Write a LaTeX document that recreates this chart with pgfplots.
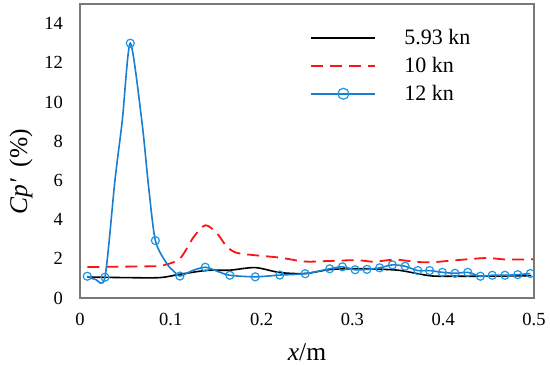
\documentclass[border=0pt]{standalone}
\usepackage{fontspec}
\setmainfont{Liberation Serif}
\usepackage{pgfplots}
\pgfplotsset{compat=1.18}
\usetikzlibrary{calc}
\definecolor{bline}{RGB}{25,125,210}
\definecolor{bmark}{RGB}{30,150,225}
\definecolor{rline}{RGB}{250,20,20}
\definecolor{axgray}{RGB}{120,120,120}
\begin{document}
\begin{tikzpicture}
\begin{axis}[
  scale only axis, width=454pt, height=294pt,
  xmin=0, xmax=0.5, ymin=0, ymax=15,
  xtick={0,0.1,0.2,0.3,0.4,0.5}, ytick={0,2,4,6,8,10,12,14},
  major tick length=0pt,
  axis line style={draw=axgray, line width=1.3pt},
  tick label style={font=\fontsize{18.5}{20}\selectfont, inner sep=0pt},
  /pgf/number format/assume math mode=true,
  xticklabel style={yshift=-15pt},
  yticklabel style={xshift=-17pt},
  xlabel={\textit{x}/m},
  ylabel={\textit{Cp′}\hspace{0.45em}(\%)},
  label style={font=\fontsize{25.5}{28}\selectfont},
  xlabel style={at={(axis description cs:0.5,-0.184)}, anchor=center},
  ylabel style={at={(axis description cs:-0.13,0.43)}, anchor=center},
  legend cell align=left,
  legend style={at={(axis description cs:0.5006,0.925)}, anchor=north west,
    draw=none, fill=none, font=\fontsize{22}{24}\selectfont,
    row sep=9pt, /tikz/column sep=27pt,
    nodes={inner sep=1pt, text height=15pt, text depth=2pt}},
  legend image code/.code={
    \draw[mark=none] (0pt,0pt) -- (64pt,0pt);
    \draw[only marks, mark size=5.5pt] plot coordinates {(32pt,0pt)};},
]
\addplot[black, line width=1.6pt, smooth, tension=0.5] coordinates {
(0.008,1.07) (0.05,1.04) (0.088,1.04) (0.11,1.21) (0.14,1.41) (0.165,1.42)
(0.193,1.55) (0.22,1.30) (0.248,1.25) (0.275,1.45) (0.305,1.50) (0.33,1.47)
(0.352,1.41) (0.371,1.25) (0.389,1.12) (0.423,1.11) (0.46,1.12) (0.497,1.14)
};
\addlegendentry{5.93 kn}
\addplot[rline, line width=1.8pt, dash pattern=on 12pt off 7pt, smooth, tension=0.5] coordinates {
(0.008,1.58) (0.05,1.60) (0.08,1.62) (0.092,1.67) (0.11,2.01) (0.125,3.1)
(0.138,3.71) (0.151,3.29) (0.162,2.6) (0.173,2.3) (0.193,2.18) (0.22,2.06)
(0.248,1.86) (0.275,1.89) (0.305,1.93) (0.323,1.85) (0.341,1.94) (0.349,1.96)
(0.371,1.84) (0.389,1.83) (0.415,1.93) (0.448,2.04) (0.470,1.96) (0.499,1.98)
};
\addlegendentry{10 kn}
\addplot[bline, line width=1.6pt, smooth, tension=0.45,
  mark=o, mark size=4pt, mark options={draw=bmark, line width=1.2pt, solid},
  mark indices={1,3,6,9,12,14,16,17,18,19,20,21,22,23,24,25,26,27,28,29,30,31,32,33,34,35,36}] coordinates {
(0.008,1.11) (0.017,0.95) (0.0275,1.06) (0.0385,6.0) (0.0466,9.07) (0.0554,13.0)
(0.068,9.07) (0.0755,5.7) (0.083,2.93) (0.0955,1.76) (0.103,1.38) (0.110,1.12)
(0.124,1.40) (0.138,1.57) (0.152,1.35) (0.165,1.16) (0.193,1.08) (0.220,1.17)
(0.248,1.24) (0.275,1.49) (0.289,1.59) (0.303,1.44) (0.316,1.46) (0.330,1.54)
(0.344,1.69) (0.358,1.62) (0.372,1.40) (0.385,1.40) (0.399,1.31) (0.413,1.26)
(0.427,1.31) (0.441,1.11) (0.454,1.16) (0.468,1.16) (0.482,1.19) (0.496,1.25)
};
\addlegendentry{12 kn}
\end{axis}
\pgfresetboundingbox
\path ($(current axis.south west)+(-80pt,-67.3pt)$) rectangle ($(current axis.north east)+(16pt,4pt)$);
\end{tikzpicture}
\end{document}
